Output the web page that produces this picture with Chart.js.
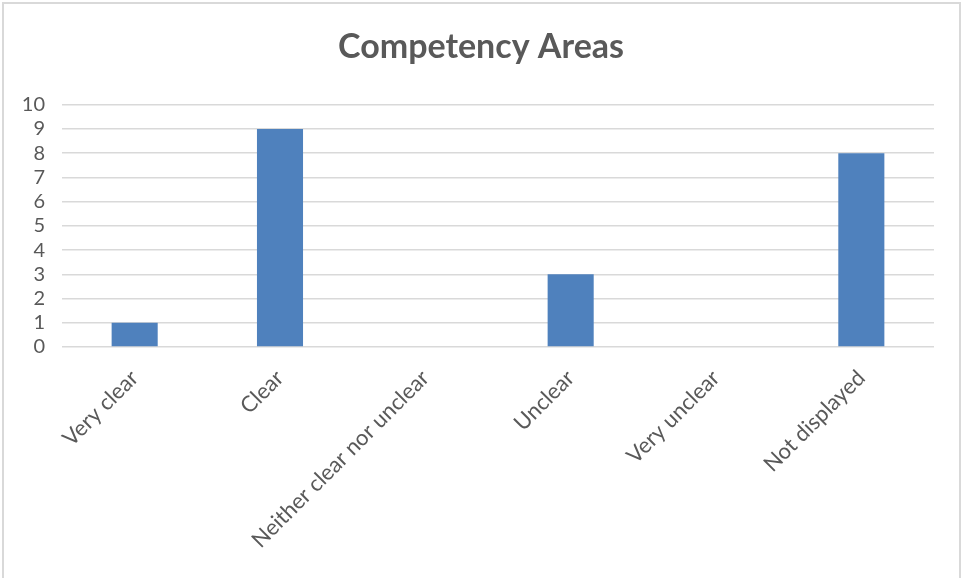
<!DOCTYPE html>
<html>
<head>
<meta charset="utf-8">
<script src="https://cdn.jsdelivr.net/npm/chart.js@4"></script>
<style>
  body { margin: 0; background: #fff; }
  #wrap { position: relative; width: 962px; height: 578px; }
</style>
</head>
<body>
<div id="wrap"><canvas id="competencyChart" width="962" height="578"></canvas></div>
<script>
// Competency Areas - response counts
const categories = ['Very clear', 'Clear', 'Neither clear nor unclear', 'Unclear', 'Very unclear', 'Not displayed'];
const counts = [1, 9, 0, 3, 0, 8];
const yTicks = [0, 1, 2, 3, 4, 5, 6, 7, 8, 9, 10];

const textColor = '#595959';
const gridColor = '#d9d9d9';
const fontFamily = 'Lato, "Open Sans", sans-serif';

// thin frame around the chart, like the exported picture
const framePlugin = {
  id: 'frame',
  afterLayout(chart) {
    // centre the title on the whole picture, not only the padded box
    if (chart.titleBlock) {
      chart.titleBlock.left = 0;
      chart.titleBlock.right = chart.width;
      chart.titleBlock.width = chart.width;
    }
  },
  beforeDraw(chart) {
    const c = chart.ctx;
    c.save();
    c.fillStyle = '#fff';
    c.fillRect(0, 0, chart.width, chart.height);
    c.strokeStyle = gridColor;
    c.lineWidth = 2;
    c.beginPath();
    c.moveTo(3, chart.height);
    c.lineTo(3, 3);
    c.lineTo(chart.width - 2, 3);
    c.lineTo(chart.width - 2, chart.height);
    c.stroke();
    c.restore();
  }
};

new Chart(document.getElementById('competencyChart').getContext('2d'), {
  type: 'bar',
  data: {
    labels: categories,
    datasets: [{
      data: counts,
      backgroundColor: '#4F81BD',
      borderWidth: 0,
      categoryPercentage: 1,
      barPercentage: 0.317
    }]
  },
  options: {
    responsive: false,
    animation: false,
    layout: {
      padding: { left: 0, right: 28, top: 0, bottom: 0 }
    },
    plugins: {
      legend: { display: false },
      tooltip: { enabled: false },
      title: {
        display: true,
        text: 'Competency Areas',
        color: textColor,
        font: { family: fontFamily, size: 34, weight: 'bold' },
        padding: { top: 27, bottom: 37 }
      }
    },
    scales: {
      x: {
        grid: { display: false },
        border: { display: false },
        afterFit(axis) { axis.height = 231; },
        ticks: {
          color: textColor,
          font: { family: fontFamily, size: 22 },
          minRotation: 45,
          maxRotation: 45,
          autoSkip: false,
          padding: 10
        }
      },
      y: {
        min: 0,
        max: 10,
        afterBuildTicks(axis) {
          axis.ticks = yTicks.map(v => ({ value: v }));
        },
        afterFit(axis) { axis.width = 62; },
        grid: { color: gridColor, lineWidth: 1.5, drawTicks: false },
        border: { display: false },
        ticks: {
          color: textColor,
          font: { family: fontFamily, size: 20 },
          padding: 17,
          autoSkip: false
        }
      }
    }
  },
  plugins: [framePlugin]
});
</script>
</body>
</html>
